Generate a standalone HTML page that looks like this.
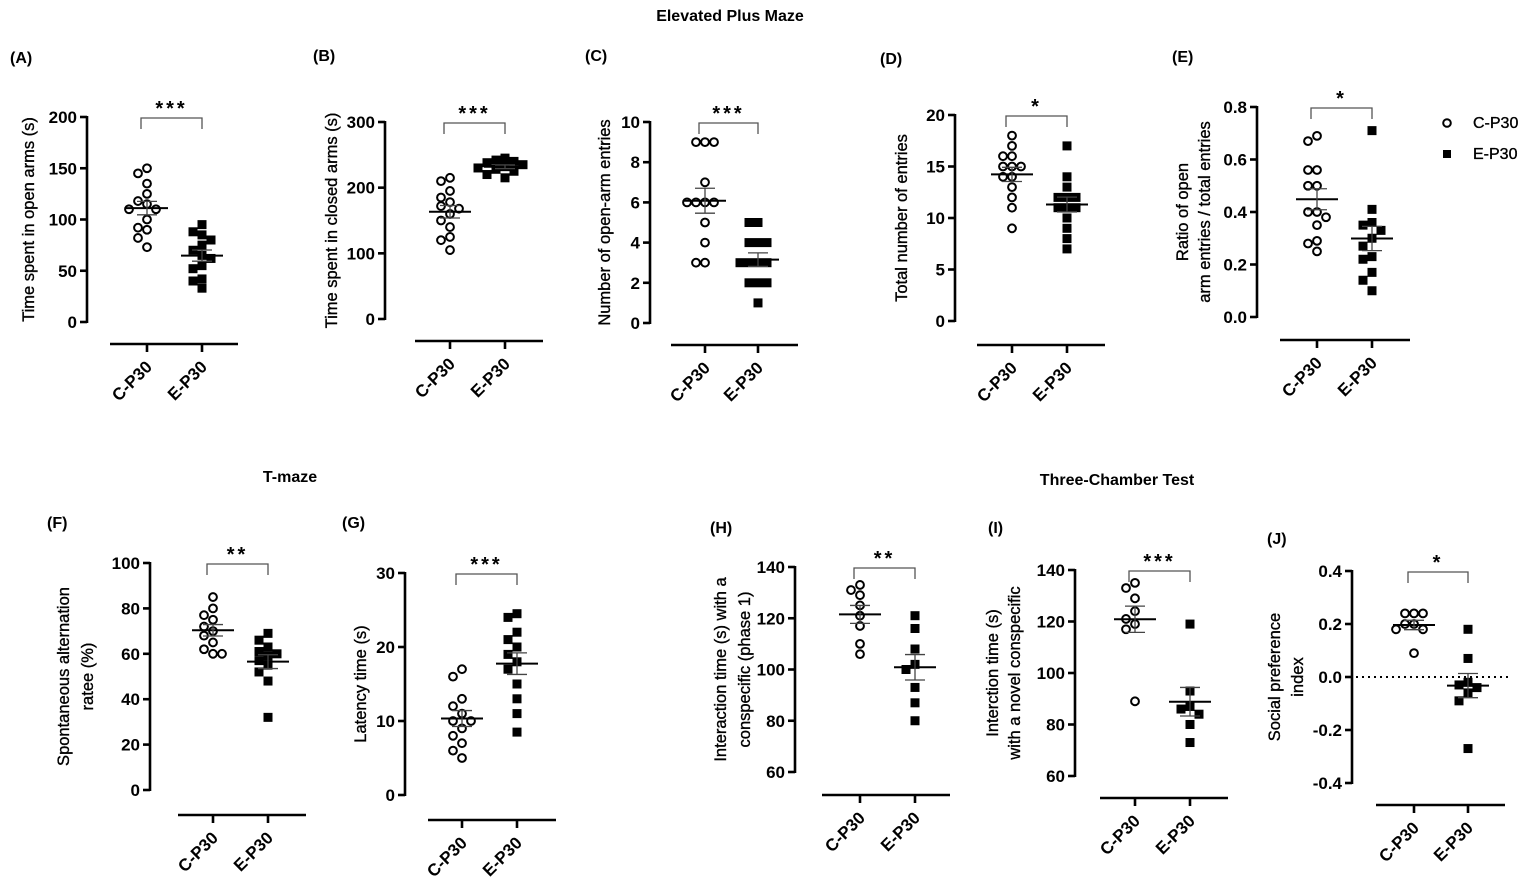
<!DOCTYPE html>
<html><head><meta charset="utf-8"><style>
html,body{margin:0;padding:0;background:#fff;}
svg{display:block;font-family:"Liberation Sans",Arial,sans-serif;}
.n{stroke:#000;stroke-width:0.35;}
</style></head><body>
<svg id="s" width="1535" height="896" viewBox="0 0 1535 896" xmlns="http://www.w3.org/2000/svg">
<text x="730" y="21" font-size="16" font-weight="bold" text-anchor="middle">Elevated Plus Maze</text>
<text x="290" y="482" font-size="16" font-weight="bold" text-anchor="middle">T-maze</text>
<text x="1117" y="485" font-size="16" font-weight="bold" text-anchor="middle">Three-Chamber Test</text>
<circle cx="1447" cy="123" r="3.8" fill="none" stroke="#000" stroke-width="2"/>
<text x="1473" y="128" font-size="16" class="n">C-P30</text>
<rect x="1443" y="150" width="8" height="8" fill="#000"/>
<text x="1473" y="159" font-size="16" class="n">E-P30</text>
</svg>
<script>
const S=document.getElementById('s');const NS='http://www.w3.org/2000/svg';
function el(t,a,txt){const e=document.createElementNS(NS,t);for(const k in a)e.setAttribute(k,a[k]);if(txt!==undefined)e.textContent=txt;S.appendChild(e);return e;}
const P=[
{L:'(A)',lx:10,ly:63,ax:87,v0:0,y0:322,v1:200,y1:117,ticks:[0,50,100,150,200],dec:0,bl:344,bx0:110,bx1:238,g:[147,202],lab:['Time spent in open arms (s)'],labx:[28],st:'***',
 c:[150,145,135,125,118,115,110,110,100,92,90,82,73],e:[95,88,85,80,75,70,65,62,55,52,42,40,33]},
{L:'(B)',lx:313,ly:61,ax:385,v0:0,y0:319,v1:300,y1:122,ticks:[0,100,200,300],dec:0,bl:341,bx0:415,bx1:543,g:[450,505],lab:['Time spent in closed arms (s)'],labx:[331],st:'***',
 c:[215,210,195,185,178,172,168,160,150,140,125,120,105],e:[245,242,240,238,235,232,230,228,225,220,215]},
{L:'(C)',lx:585,ly:61,ax:650,v0:0,y0:323,v1:10,y1:122,ticks:[0,2,4,6,8,10],dec:0,bl:345,bx0:671,bx1:798,g:[705,758],lab:['Number of open-arm entries'],labx:[604],st:'***',
 c:[9,9,9,7,6,6,6,6,5,4,3,3],e:[5,5,4,4,4,3,3,3,3,2,2,2,1]},
{L:'(D)',lx:880,ly:64,ax:955,v0:0,y0:321,v1:20,y1:115,ticks:[0,5,10,15,20],dec:0,bl:345,bx0:977,bx1:1105,g:[1012,1067],lab:['Total number of entries'],labx:[901],st:'*',
 c:[18,17,16,16,15,15,15,14,14,13,12,11,9],e:[17,14,13,12,12,12,11,11,11,10,9,8,7]},
{L:'(E)',lx:1172,ly:62,ax:1257,v0:0,y0:317,v1:0.8,y1:107,ticks:[0,0.2,0.4,0.6,0.8],dec:1,bl:340,bx0:1280,bx1:1410,g:[1317,1372],lab:['Ratio of open','arm entries / total entries'],labx:[1182,1204],st:'*',
 c:[0.69,0.67,0.56,0.56,0.5,0.5,0.4,0.38,0.4,0.35,0.29,0.28,0.25],e:[0.71,0.41,0.36,0.35,0.33,0.3,0.27,0.23,0.22,0.17,0.14,0.1]},
{L:'(F)',lx:47,ly:528,ax:150,v0:0,y0:790,v1:100,y1:563,ticks:[0,20,40,60,80,100],dec:0,bl:815,bx0:178,bx1:306,g:[213,268],lab:['Spontaneous alternation','ratee (%)'],labx:[63,87],st:'**',
 c:[85,80,77,75,72,70,68,65,62,60,60],e:[69,66,63,61,60,59,57,55,52,48,32]},
{L:'(G)',lx:342,ly:528,ax:405,v0:0,y0:795,v1:30,y1:573,ticks:[0,10,20,30],dec:0,bl:820,bx0:428,bx1:556,g:[462,517],lab:['Latency time (s)'],labx:[360],st:'***',
 c:[17,16,13,12,11,10,10,9,8,7,6,5],e:[24.5,24,22,21,20,19,18,17,15,13,11,8.5]},
{L:'(H)',lx:710,ly:533,ax:795,v0:60,y0:772,v1:140,y1:567,ticks:[60,80,100,120,140],dec:0,bl:795,bx0:822,bx1:950,g:[860,915],lab:['Interaction time (s) with a','conspecific (phase 1)'],labx:[720,744],st:'**',
 c:[133,131,129,125,121,117,110,106],e:[121,116,108,102,100,93,87,80]},
{L:'(I)',lx:988,ly:533,ax:1075,v0:60,y0:776,v1:140,y1:570,ticks:[60,80,100,120,140],dec:0,bl:798,bx0:1100,bx1:1228,g:[1135,1190],lab:['Interction time (s)','with a novel conspecific'],labx:[992,1014],st:'***',
 c:[135,133,129,124,121,119,117,89],e:[119,93,87,86,84,80,73]},
{L:'(J)',lx:1267,ly:544,ax:1352,v0:-0.4,y0:783,v1:0.4,y1:571,ticks:[-0.4,-0.2,0,0.2,0.4],dec:1,bl:805,bx0:1376,bx1:1505,g:[1414,1468],lab:['Social preference','index'],labx:[1274,1297],st:'*',dot:true,
 c:[0.24,0.24,0.24,0.2,0.2,0.18,0.18,0.09],e:[0.18,0.07,-0.02,-0.03,-0.04,-0.06,-0.09,-0.27]}
];
for(const p of P){
 const Y=v=>p.y0+(v-p.v0)*(p.y1-p.y0)/(p.v1-p.v0);
 el('text',{x:p.lx,y:p.ly,'font-size':16,'font-weight':'bold'},p.L);
 el('line',{x1:p.ax,y1:p.y1-1,x2:p.ax,y2:p.y0+1,stroke:'#000','stroke-width':2.6});
 for(const t of p.ticks){const y=Y(t);
  el('line',{x1:p.ax-7,y1:y,x2:p.ax,y2:y,stroke:'#000','stroke-width':2.6});
  el('text',{x:p.ax-10,y:y+6,'font-size':17,'font-weight':'bold','text-anchor':'end'},t.toFixed(p.dec));}
 const cy=(p.y0+p.y1)/2;
 p.lab.forEach((s,i)=>{el('text',{x:p.labx[i],y:cy,'font-size':16.5,'class':'n','text-anchor':'middle',transform:`rotate(-90 ${p.labx[i]} ${cy})`,dy:6},s);});
 el('line',{x1:p.bx0,y1:p.bl,x2:p.bx1,y2:p.bl,stroke:'#000','stroke-width':2.6});
 ['C-P30','E-P30'].forEach((s,i)=>{const gx=p.g[i];
  el('line',{x1:gx,y1:p.bl,x2:gx,y2:p.bl+8,stroke:'#000','stroke-width':2.6});
  el('text',{x:gx+6,y:p.bl+24,'font-size':17,'font-weight':'bold','text-anchor':'end',transform:`rotate(-45 ${gx+6} ${p.bl+24})`},s);});
 if(p.dot)el('line',{x1:p.ax+4,y1:Y(0),x2:p.bx1+5,y2:Y(0),stroke:'#000','stroke-width':2,'stroke-dasharray':'2 4'});
 const by=p.y1+1;
 el('path',{d:`M${p.g[0]-6} ${by+11}V${by}H${p.g[1]}V${by+11}`,fill:'none',stroke:'#555','stroke-width':1.3});
 el('text',{x:(p.g[0]+p.g[1])/2-3,y:by-3,'font-size':20,'font-weight':'bold','text-anchor':'middle','letter-spacing':'3'},p.st);
 [p.c,p.e].forEach((arr,gi)=>{const gx=p.g[gi];const placed=[];
  const n=arr.length,m=arr.reduce((a,b)=>a+b)/n;
  const sd=Math.sqrt(arr.reduce((a,b)=>a+(b-m)*(b-m),0)/(n-1)),se=sd/Math.sqrt(n);
  const sorted=[...arr].sort((a,b)=>b-a);
  for(const v of sorted){const y=Y(v);let off=0;
   for(const o of [0,-9,9,-18,18,-27,27]){if(placed.every(q=>Math.hypot(q[0]-(gx+o),q[1]-y)>8.5)){off=o;break;}}
   placed.push([gx+off,y]);
   if(gi==0)el('circle',{cx:gx+off,cy:y,r:3.9,fill:'none',stroke:'#000','stroke-width':2});
   else el('rect',{x:gx+off-4.5,y:y-4.5,width:9,height:9,fill:'#000'});}
  const my=Y(m),ht=Y(m+se),lo=Y(m-se);
  el('line',{x1:gx-21,y1:my,x2:gx+21,y2:my,stroke:'#000','stroke-width':2});
  el('line',{x1:gx,y1:ht,x2:gx,y2:lo,stroke:'#444','stroke-width':1.3});
  el('line',{x1:gx-10,y1:ht,x2:gx+10,y2:ht,stroke:'#444','stroke-width':1.3});
  el('line',{x1:gx-10,y1:lo,x2:gx+10,y2:lo,stroke:'#444','stroke-width':1.3});
 });
}
</script>
</body></html>
